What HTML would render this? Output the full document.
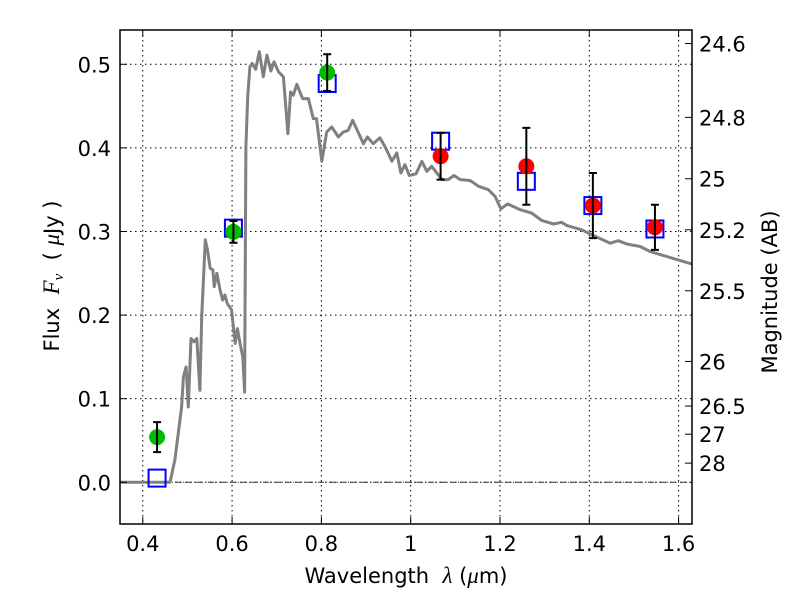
<!DOCTYPE html>
<html><head><meta charset="utf-8"><style>
body{margin:0;background:#fff;}
svg{display:block;font-family:"DejaVu Sans","Liberation Sans",sans-serif;}
</style></head><body>
<svg id="chart" width="800" height="600" viewBox="0 0 800 600" xmlns="http://www.w3.org/2000/svg">
<rect x="0" y="0" width="800" height="600" fill="#fff"/>
<g id="grid"></g>
<g id="plot"></g>
<g id="axes"></g>
<text x="406" y="583" font-size="21" text-anchor="middle">Wavelength&#160;&#160;<tspan font-style="italic" font-family="'Liberation Serif',serif" font-size="23">λ</tspan> (<tspan font-style="italic" font-family="'Liberation Serif',serif" font-size="23">μ</tspan>m)</text>
<text transform="translate(59,276) rotate(-90)" font-size="21" text-anchor="middle">Flux&#160;&#160;<tspan font-style="italic" font-family="'Liberation Serif',serif" font-size="23">F</tspan><tspan font-style="italic" font-family="'Liberation Serif',serif" font-size="15" dy="4">ν</tspan><tspan dy="-4">&#160;&#160;( </tspan><tspan font-style="italic" font-family="'Liberation Serif',serif" font-size="23">μ</tspan>Jy )</text>
<text transform="translate(777,292) rotate(-90)" font-size="21" text-anchor="middle">Magnitude (AB)</text>
</svg>
<script>
const specWave=[0.349,0.461,0.472,0.487,0.491,0.497,0.502,0.508,0.515,0.521,0.528,0.532,0.540,0.545,0.551,0.557,0.560,0.566,0.573,0.579,0.584,0.589,0.599,0.607,0.612,0.618,0.624,0.628,0.631,0.635,0.640,0.645,0.653,0.661,0.670,0.678,0.687,0.694,0.704,0.715,0.725,0.731,0.737,0.745,0.758,0.771,0.782,0.789,0.801,0.812,0.823,0.838,0.849,0.860,0.870,0.883,0.894,0.903,0.916,0.931,0.943,0.958,0.969,0.978,0.987,0.997,1.012,1.025,1.036,1.047,1.070,1.084,1.097,1.111,1.133,1.152,1.174,1.189,1.202,1.217,1.245,1.271,1.294,1.320,1.338,1.350,1.383,1.406,1.447,1.465,1.484,1.514,1.536,1.574,1.630];
const specFlux=[0,0,0.027,0.090,0.126,0.138,0.090,0.172,0.168,0.172,0.110,0.198,0.290,0.278,0.256,0.254,0.234,0.250,0.230,0.218,0.224,0.214,0.206,0.166,0.184,0.166,0.150,0.108,0.401,0.461,0.497,0.501,0.494,0.515,0.485,0.511,0.492,0.503,0.491,0.485,0.417,0.467,0.463,0.476,0.459,0.459,0.435,0.435,0.384,0.419,0.425,0.413,0.419,0.421,0.433,0.418,0.405,0.413,0.405,0.412,0.401,0.384,0.394,0.370,0.380,0.367,0.369,0.384,0.372,0.378,0.362,0.362,0.367,0.362,0.361,0.354,0.350,0.342,0.327,0.333,0.326,0.322,0.313,0.309,0.311,0.307,0.302,0.296,0.286,0.289,0.285,0.282,0.276,0.270,0.261];
const obsWave=[0.432,0.603,0.813,1.067,1.259,1.408,1.547];
const obsFlux=[0.054,0.2995,0.490,0.390,0.378,0.331,0.305];
const obsErr=[0.018,0.013,0.022,0.028,0.046,0.039,0.027];
const obsColor=["#00bb00","#00bb00","#00bb00","#ff0000","#ff0000","#ff0000","#ff0000"];
const modelFlux=[0.005,0.304,0.477,0.408,0.360,0.331,0.303];
const xTicks=[0.4,0.6,0.8,1.0,1.2,1.4,1.6];
const xTickLabels=["0.4","0.6","0.8","1","1.2","1.4","1.6"];
const yTicks=[0,0.1,0.2,0.3,0.4,0.5];
const yTickLabels=["0.0","0.1","0.2","0.3","0.4","0.5"];
const magTicks=[24.6,24.8,25,25.2,25.5,26,26.5,27,28];
const magTickLabels=["24.6","24.8","25","25.2","25.5","26","26.5","27","28"];

const L=120,R=692,T=30,B=524;
const XMIN=0.349,XMAX=1.630,YMIN=-0.0499,YMAX=0.541;
const sx=v=>L+(v-XMIN)/(XMAX-XMIN)*(R-L);
const sy=v=>B-(v-YMIN)/(YMAX-YMIN)*(B-T);
const NS="http://www.w3.org/2000/svg";
function mk(tag,attrs,parent){const e=document.createElementNS(NS,tag);for(const k in attrs)e.setAttribute(k,attrs[k]);parent.appendChild(e);return e;}
const grid=document.getElementById('grid'),plot=document.getElementById('plot'),axes=document.getElementById('axes');

xTicks.forEach((v,i)=>{
  const g=mk('line',{x1:sx(v),x2:sx(v),y1:T,y2:B,stroke:'#000','stroke-width':1,'stroke-dasharray':'1.5,3.5'},grid);
  
  
  const t1=mk('line',{x1:sx(v),x2:sx(v),y1:B,y2:B-7,stroke:'#000'},axes);
  
  
  mk('line',{x1:sx(v),x2:sx(v),y1:T,y2:T+7,stroke:'#000'},axes);
  const tx=mk('text',{x:sx(v),y:B+27,'font-size':21,'text-anchor':'middle'},axes);
  tx.textContent=xTickLabels[i];
  
  
});
yTicks.forEach((v,i)=>{
  const g=mk('line',{x1:L,x2:R,y1:sy(v),y2:sy(v),stroke:'#000','stroke-width':1,'stroke-dasharray':'1.5,3.5'},grid);
  
  
  const t1=mk('line',{x1:L,x2:L+7,y1:sy(v),y2:sy(v),stroke:'#000'},axes);
  
  
  const tx=mk('text',{x:L-9,y:sy(v)+8,'font-size':21,'text-anchor':'end'},axes);
  tx.textContent=yTickLabels[i];
  
  
});
magTicks.forEach((m,i)=>{
  const f=Math.pow(10,(23.9-m)/2.5);
  const y=sy(f);
  const t1=mk('line',{x1:R-7,x2:R,y1:y,y2:y,stroke:'#000'},axes);
  
  
  const tx=mk('text',{x:R+7,y:y+8,'font-size':21},axes);
  tx.textContent=magTickLabels[i];
  
  
});
const zl=mk('line',{x1:L,x2:R,y1:sy(0),y2:sy(0),stroke:'#333','stroke-width':1,'stroke-dasharray':'6,2,1,2'},plot);



let d='';
specWave.forEach((w,i)=>{d+=(i?'L':'M')+sx(w).toFixed(1)+','+sy(specFlux[i]).toFixed(1);});
const sp=mk('path',{d:d,fill:'none',stroke:'#808080','stroke-width':3,'stroke-linejoin':'round'},plot);



obsWave.forEach((w,i)=>{
  const x=sx(w);
  const sq=mk('rect',{x:x-8.5,y:sy(modelFlux[i])-8.5,width:17,height:17,fill:'none',stroke:'#0000ff','stroke-width':2},plot);
  
  
  const c=mk('circle',{cx:x,cy:sy(obsFlux[i]),r:8,fill:obsColor[i]},plot);
  
  
  const y1=sy(obsFlux[i]+obsErr[i]),y2=sy(obsFlux[i]-obsErr[i]);
  const eb=mk('path',{d:`M${x},${y1}V${y2}M${x-4},${y1}H${x+4}M${x-4},${y2}H${x+4}`,stroke:'#000','stroke-width':2,fill:'none'},plot);
  
  
});
const fr=mk('rect',{x:L,y:T,width:R-L,height:B-T,fill:'none',stroke:'#000','stroke-width':1.5},axes);


</script>
</body></html>
